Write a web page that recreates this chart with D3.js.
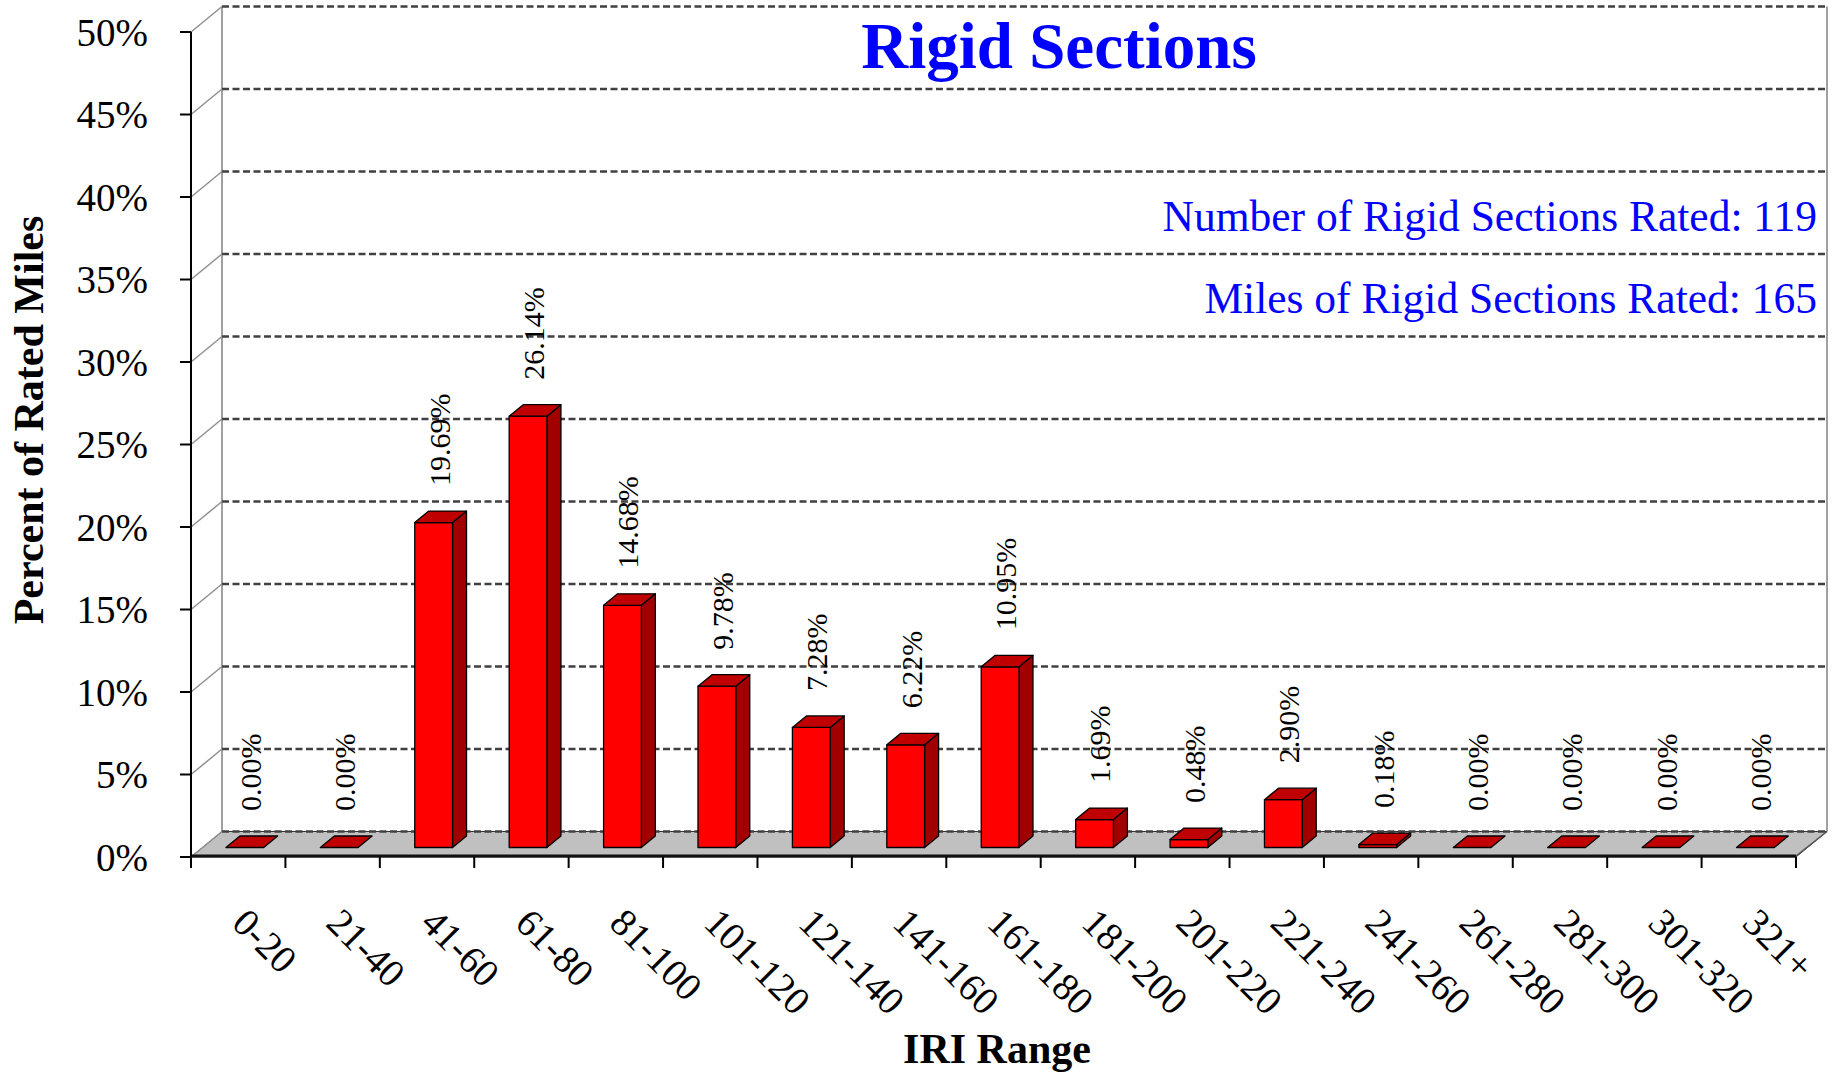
<!DOCTYPE html>
<html>
<head>
<meta charset="utf-8">
<script src="https://cdn.jsdelivr.net/npm/d3@7"></script>
<style>
  html, body { margin: 0; padding: 0; background: #fff; }
  svg { display: block; }
  svg text { font-family: "Liberation Serif", "Times New Roman", serif; }
</style>
</head>
<body>
<svg id="chart" width="1838" height="1074" font-family="Liberation Serif, Times New Roman, serif"></svg>
<script>
// ---- data ----
const categories = ["0-20","21-40","41-60","61-80","81-100","101-120","121-140","141-160","161-180","181-200","201-220","221-240","241-260","261-280","281-300","301-320","321+"];
const values = [0.00, 0.00, 19.69, 26.14, 14.68, 9.78, 7.28, 6.22, 10.95, 1.69, 0.48, 2.90, 0.18, 0.00, 0.00, 0.00, 0.00];
const yTicks = [0, 5, 10, 15, 20, 25, 30, 35, 40, 45, 50];
const titleText = "Rigid Sections";
const noteLines = ["Number of Rigid Sections Rated: 119", "Miles of Rigid Sections Rated: 165"];
const xTitle = "IRI Range";
const yTitle = "Percent of Rated Miles";

// ---- layout ----
const svg = d3.select("#chart");
const FONT = "Liberation Serif, Times New Roman, serif";
const plotL = 191, plotR = 1796, plotB = 857, plotT = 32;
const depthX = 31, depthY = 25.5;           // back wall offset
const barDX = 14, barDY = 11.5;              // bar depth
const barFrontShiftY = 9.5;                  // bar front plane behind floor front

const x = d3.scaleBand().domain(categories).range([plotL, plotR]).padding(0);
const y = d3.scaleLinear().domain([0, 50]).range([plotB, plotT]);
const bw = x.bandwidth();
const pts = arr => arr.map(p => p.join(",")).join(" ");

// floor
svg.append("polygon")
  .attr("points", pts([[plotL, plotB], [plotR, plotB], [plotR + depthX, plotB - depthY], [plotL + depthX, plotB - depthY]]))
  .attr("fill", "#c0c0c0").attr("stroke", "#333").attr("stroke-width", 1);

// back walls
svg.append("line").attr("x1", plotL + depthX).attr("x2", plotL + depthX)
  .attr("y1", y(50) - depthY).attr("y2", y(0) - depthY)
  .attr("stroke", "#a0a0a0").attr("stroke-width", 2);
svg.append("line").attr("x1", plotR + depthX).attr("x2", plotR + depthX)
  .attr("y1", y(50) - depthY).attr("y2", y(0) - depthY)
  .attr("stroke", "#a0a0a0").attr("stroke-width", 2);

// gridlines (back wall dashed) + side-wall diagonals
yTicks.forEach(t => {
  svg.append("line")
    .attr("x1", plotL + depthX).attr("x2", plotR + depthX)
    .attr("y1", y(t) - depthY).attr("y2", y(t) - depthY)
    .attr("stroke", "#404040").attr("stroke-width", 2.5)
    .attr("stroke-dasharray", "7,3.5");
  svg.append("line")
    .attr("x1", plotL).attr("y1", y(t))
    .attr("x2", plotL + depthX).attr("y2", y(t) - depthY)
    .attr("stroke", "#909090").attr("stroke-width", 1.5);
});

// floor front edge and right edge
svg.append("line").attr("x1", plotL).attr("x2", plotR).attr("y1", plotB - 1).attr("y2", plotB - 1)
  .attr("stroke", "#111").attr("stroke-width", 3);
svg.append("line").attr("x1", plotR).attr("y1", plotB - 1)
  .attr("x2", plotR + depthX).attr("y2", plotB - depthY)
  .attr("stroke", "#555").attr("stroke-width", 1.5);

// bars
const base = y(0) - barFrontShiftY;
const unit = (y(0) - y(1));
const bars = svg.append("g");
categories.forEach((c, i) => {
  const v = values[i];
  const x0 = x(c) + bw * 0.37;
  const w = bw * 0.4;
  const h = v * unit;
  const tp = base - h;
  const g = bars.append("g").attr("stroke", "#000").attr("stroke-width", 1.3).attr("stroke-linejoin", "round");
  if (h > 0.5) {
    g.append("polygon")
      .attr("points", pts([[x0 + w, tp], [x0 + w + barDX, tp - barDY], [x0 + w + barDX, base - barDY], [x0 + w, base]]))
      .attr("fill", "#a00000");
    g.append("rect").attr("x", x0).attr("y", tp).attr("width", w).attr("height", h).attr("fill", "#ff0000");
  }
  g.append("polygon")
    .attr("points", pts([[x0, tp], [x0 + barDX, tp - barDY], [x0 + w + barDX, tp - barDY], [x0 + w, tp]]))
    .attr("fill", "#c00000");
});

// value labels
categories.forEach((c, i) => {
  const v = values[i];
  const cx = x(c) + bw / 2 + 12;
  const ly = base - v * unit - barDY - 25;
  svg.append("text")
    .attr("transform", `translate(${cx},${ly}) rotate(-90)`)
    .attr("dy", "0.35em")
    .attr("text-anchor", "start")
    .attr("font-family", FONT)
    .attr("font-size", 30)
    .attr("fill", "#000")
    .text(v.toFixed(2) + "%");
});

// y axis
svg.append("line").attr("x1", plotL).attr("x2", plotL).attr("y1", y(50)).attr("y2", y(0))
  .attr("stroke", "#000").attr("stroke-width", 2);
yTicks.forEach(t => {
  svg.append("line").attr("x1", plotL - 11).attr("x2", plotL).attr("y1", y(t)).attr("y2", y(t))
    .attr("stroke", "#000").attr("stroke-width", 2);
  svg.append("text").attr("x", 148).attr("y", y(t)).attr("dy", "0.35em")
    .attr("text-anchor", "end").attr("font-family", FONT).attr("font-size", 39).attr("fill", "#000")
    .text(t + "%");
});

// x axis ticks
d3.range(categories.length + 1).forEach(i => {
  const xx = plotL + i * bw;
  svg.append("line").attr("x1", xx).attr("x2", xx).attr("y1", plotB).attr("y2", plotB + 11)
    .attr("stroke", "#000").attr("stroke-width", 2);
});
categories.forEach(c => {
  svg.append("text")
    .attr("transform", `translate(${x(c) + bw / 2 - 8},${925}) rotate(45)`)
    .attr("text-anchor", "start").attr("font-family", FONT).attr("font-size", 39).attr("fill", "#000")
    .text(c);
});

// titles
svg.append("text").attr("x", 1059).attr("y", 68).attr("text-anchor", "middle").attr("font-family", FONT)
  .attr("font-size", 65).attr("font-weight", "bold").attr("fill", "#0000ff").text(titleText);
svg.append("text").attr("x", 1817).attr("y", 231).attr("text-anchor", "end").attr("font-family", FONT)
  .attr("font-size", 43.5).attr("fill", "#0000ff").text(noteLines[0]);
svg.append("text").attr("x", 1817).attr("y", 313).attr("text-anchor", "end").attr("font-family", FONT)
  .attr("font-size", 43.5).attr("fill", "#0000ff").text(noteLines[1]);
svg.append("text").attr("x", 997).attr("y", 1063).attr("text-anchor", "middle").attr("font-family", FONT)
  .attr("font-size", 42).attr("font-weight", "bold").attr("fill", "#000").text(xTitle);
svg.append("text").attr("transform", `translate(43,${420}) rotate(-90)`).attr("text-anchor", "middle").attr("font-family", FONT)
  .attr("font-size", 42).attr("font-weight", "bold").attr("fill", "#000").text(yTitle);
</script>
</body>
</html>
